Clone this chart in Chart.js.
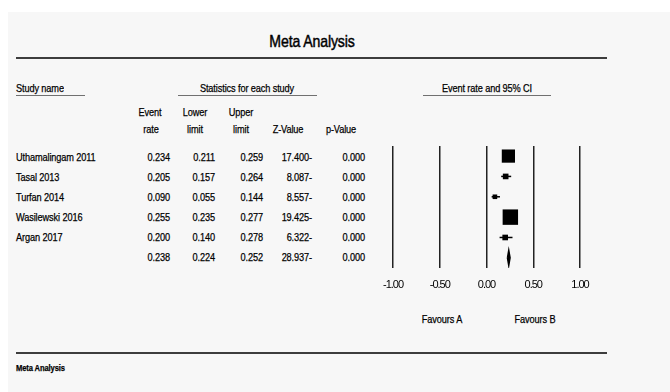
<!DOCTYPE html>
<html>
<head>
<meta charset="utf-8">
<script src="https://cdn.jsdelivr.net/npm/chart.js@4.4.1/dist/chart.umd.min.js"></script>
<style>
html, body { margin: 0; padding: 0; background: #fff; }
body { width: 670px; height: 392px; position: relative; overflow: hidden;
       font-family: 'Liberation Sans', Arial, sans-serif; color: #000; }
#sheet { position: absolute; left: 8px; top: 12px; right: 0; bottom: 0; background: #f7f7f7; }
.t { position: absolute; white-space: nowrap; line-height: 20px; letter-spacing: -0.15px;
     transform-origin: 0 50%; -webkit-text-stroke: 0.25px #000; }
.rule { position: absolute; }
#plot { position: absolute; left: 370px; top: 135px; width: 240px; height: 170px; }
</style>
</head>
<body>
<div id="sheet"></div>
<div id="labels"></div>
<div id="plot"><canvas id="forest"></canvas></div>
<script>
// study data
const studies = ['Uthamalingam 2011', 'Tasal 2013', 'Turfan 2014', 'Wasilewski 2016', 'Argan 2017'];
const eventRate = [0.234, 0.205, 0.090, 0.255, 0.200];
const lowerLimit = [0.211, 0.157, 0.055, 0.235, 0.140];
const upperLimit = [0.259, 0.264, 0.144, 0.277, 0.278];
const zValue = ['17.400-', '8.087-', '8.557-', '19.425-', '6.322-'];
const pValue = ['0.000', '0.000', '0.000', '0.000', '0.000'];
const weights = [33, 6, 4, 45, 6];

// pooled result
const pooledRate = 0.238;
const pooledLower = 0.224;
const pooledUpper = 0.252;
const pooledZ = '28.937-';
const pooledP = '0.000';

const xTicks = [-1, -0.5, 0, 0.5, 1];
const favours = ['Favours A', 'Favours B'];

const FONT = "'Liberation Sans', Arial, sans-serif";
const SX = 0.8; // narrow look of the original
const labels = document.getElementById('labels');

function put(text, x, y, align, size, weight, sx) {
    const k = sx || SX;
    const d = document.createElement('div');
    d.className = 't';
    d.textContent = text;
    d.style.fontSize = (size || 11.5) + 'px';
    if (weight) d.style.fontWeight = weight;
    d.style.left = x + 'px';
    d.style.top = (y - 10) + 'px';
    let shift = 0;
    if (align === 'center') shift = -50 * k;
    if (align === 'right') shift = -100 * k;
    d.style.transform = `translateX(${shift}%) scaleX(${k})`;
    labels.appendChild(d);
    return d;
}

function rule(x1, x2, y, h, color) {
    const d = document.createElement('div');
    d.className = 'rule';
    d.style.left = x1 + 'px';
    d.style.width = (x2 - x1) + 'px';
    d.style.top = y + 'px';
    d.style.height = h + 'px';
    d.style.background = color;
    labels.appendChild(d);
}

// headings
put('Meta Analysis', 312, 42, 'center', 17, null, 0.83).style.webkitTextStroke = '0.45px #000';
rule(16, 607, 57, 2, '#3d3d3d');
put('Study name', 16, 88, 'left');
put('Statistics for each study', 247, 88, 'center');
put('Event rate and 95% CI', 487, 88, 'center');
rule(16, 85, 95, 1, '#707070');
rule(178, 317, 95, 1, '#707070');
rule(423, 551, 95, 1, '#707070');

put('Event', 150, 112, 'center');
put('rate', 151, 129, 'center');
put('Lower', 195, 112, 'center');
put('limit', 195, 129, 'center');
put('Upper', 241, 112, 'center');
put('limit', 241, 129, 'center');
put('Z-Value', 288, 129, 'center');
put('p-Value', 341, 129, 'center');

// table rows
const colRight = [170, 215, 263, 312, 365];
const fmt = v => v.toFixed(3);
studies.forEach((name, i) => {
    const y = 157 + i * 20;
    put(name, 16, y, 'left');
    put(fmt(eventRate[i]), colRight[0], y, 'right');
    put(fmt(lowerLimit[i]), colRight[1], y, 'right');
    put(fmt(upperLimit[i]), colRight[2], y, 'right');
    put(zValue[i], colRight[3], y, 'right');
    put(pValue[i], colRight[4], y, 'right');
});
const yPool = 157 + studies.length * 20;
put(fmt(pooledRate), colRight[0], yPool, 'right');
put(fmt(pooledLower), colRight[1], yPool, 'right');
put(fmt(pooledUpper), colRight[2], yPool, 'right');
put(pooledZ, colRight[3], yPool, 'right');
put(pooledP, colRight[4], yPool, 'right');

put(favours[0], 442, 319, 'center');
put(favours[1], 535, 319, 'center');

rule(16, 607, 352, 2, '#3d3d3d');
put('Meta Analysis', 16, 368, 'left', 9.5, 'bold');

// forest plot
const rowY = i => i + 1;
const ciSets = studies.map((s, i) => ({
    data: [{ x: lowerLimit[i], y: rowY(i) }, { x: upperLimit[i], y: rowY(i) }],
    showLine: true,
    borderColor: '#000',
    borderWidth: 1.5,
    pointRadius: 0
}));

const boxes = {
    data: eventRate.map((v, i) => ({ x: v, y: rowY(i) })),
    pointStyle: 'rect',
    pointRadius: weights.map(w => 2.3 * Math.sqrt(w) / Math.SQRT2),
    backgroundColor: '#000',
    borderColor: '#000',
    borderWidth: 0
};

const yP = studies.length + 1;
const diamond = {
    data: [
        { x: pooledLower, y: yP },
        { x: pooledRate, y: yP - 0.37 },
        { x: pooledUpper, y: yP },
        { x: pooledRate, y: yP + 0.37 },
        { x: pooledLower, y: yP }
    ],
    showLine: true,
    fill: 'shape',
    backgroundColor: '#000',
    borderColor: '#000',
    borderWidth: 1.5,
    pointRadius: 0
};

// tighter letters on the canvas, like the narrow face of the original
const narrowText = {
    id: 'narrowText',
    beforeDraw: chart => { chart.ctx.letterSpacing = '-1px'; }
};

new Chart(document.getElementById('forest'), {
    type: 'scatter',
    data: { datasets: [...ciSets, boxes, diamond] },
    plugins: [narrowText],
    options: {
        responsive: true,
        maintainAspectRatio: false,
        animation: false,
        layout: { padding: { left: 23, right: 30, top: 10, bottom: 7 } },
        plugins: { legend: { display: false }, tooltip: { enabled: false } },
        scales: {
            x: {
                type: 'linear',
                min: -1,
                max: 1,
                afterBuildTicks: scale => { scale.ticks = xTicks.map(v => ({ value: v })); },
                afterFit: scale => { scale.height = 30; },
                ticks: {
                    callback: v => v.toFixed(2),
                    font: { family: FONT, size: 11 },
                    color: '#000',
                    padding: 10,
                    maxRotation: 0,
                    autoSkip: false
                },
                grid: { color: '#222', lineWidth: 1.5, drawTicks: false },
                border: { display: false }
            },
            y: {
                type: 'linear',
                min: 0.5,
                max: studies.length + 1.5,
                reverse: true,
                display: false
            }
        }
    }
});
</script>
</body>
</html>
